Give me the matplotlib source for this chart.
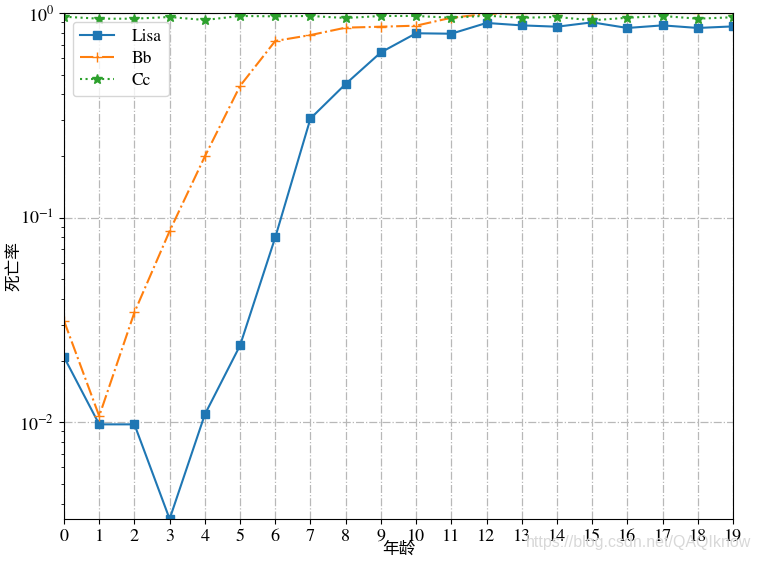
import matplotlib
matplotlib.use("Agg")
import matplotlib.pyplot as plt

ages = list(range(20))
lisa = [0.0208, 0.00975, 0.00975, 0.00336, 0.0109, 0.0237, 0.080, 0.305, 0.45, 0.642,
        0.796, 0.792, 0.894, 0.870, 0.857, 0.900, 0.845, 0.870, 0.845, 0.860]
bb = [0.0313, 0.0107, 0.0344, 0.0859, 0.199, 0.44, 0.730, 0.78, 0.848, 0.857,
      0.867, 0.948, 0.99, 1.0, 1.0, 1.0, 1.0, 1.0, 1.0, 1.0]
cc = [0.959, 0.938, 0.938, 0.956, 0.924, 0.967, 0.963, 0.967, 0.945, 0.967,
      0.967, 0.948, 0.970, 0.948, 0.956, 0.921, 0.948, 0.967, 0.938, 0.953]
labels = ["Lisa", "Bb", "Cc"]

plt.rcParams['font.family'] = ['STIXGeneral', 'Noto Sans CJK SC']
plt.rcParams['mathtext.fontset'] = 'stix'

fig = plt.figure(figsize=(7.6, 5.62), dpi=100)
ax = fig.add_axes([64/760, 1 - 519/562, (733-64)/760, (519-13)/562])

ax.plot(ages, lisa, '-s', color='#1f77b4', markersize=6, label=labels[0])
ax.plot(ages, bb, '-.+', color='#ff7f0e', markersize=7, label=labels[1])
ax.plot(ages, cc, ':*', color='#2ca02c', markersize=7, label=labels[2])

ax.set_yscale('log')
ax.set_xlim(0, 19)
ax.set_ylim(0.00336, 1)
ax.set_xticks(ages)
ax.tick_params(labelsize=13)
ax.grid(True, linestyle='-.', color='#b8b8b8', linewidth=0.9)
ax.set_xlabel('年龄', fontsize=12)
ax.set_ylabel('死亡率', fontsize=12)
ax.xaxis.set_label_coords(0.5, -(550 - 519) / 506, transform=ax.transAxes)
ax.yaxis.set_label_coords((15 - 64) / 669, 0.5, transform=ax.transAxes)
ax.xaxis.label.set_va('center')
ax.yaxis.label.set_va('center')
ax.legend(loc='upper left', fontsize=12.5, borderaxespad=0.5,
          labelspacing=0.35, handletextpad=1.0, handlelength=2.0)

fig.text(751/760, 1 - 543/562, 'https://blog.csdn.net/QAQIknow', ha='right', va='center',
         fontsize=11.5, color='#d8d8d8', family='Liberation Sans')

fig.savefig('out.png', dpi=100)
